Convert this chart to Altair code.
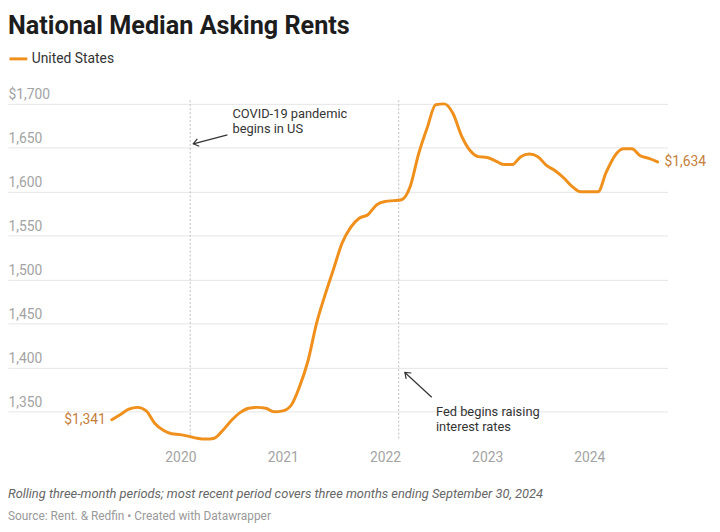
import altair as alt
import pandas as pd

# ---- data ----
SERIES = "United States"
START_MONTH = "2019-05-01"   # first monthly period shown
RENT = [1341, 1347, 1353, 1355, 1351, 1337, 1329, 1325,          # May-Dec 2019
        1324, 1322, 1320, 1319, 1320, 1329, 1340, 1349, 1354, 1355, 1354, 1350,  # 2020
        1351, 1358, 1378, 1408, 1450, 1483, 1512, 1542, 1560, 1570, 1574, 1585,  # 2021
        1589, 1590, 1591, 1606, 1643, 1673, 1699, 1700, 1689, 1664, 1647, 1640,  # 2022
        1639, 1635, 1631, 1631, 1640, 1643, 1640, 1630, 1624, 1616, 1606, 1600,  # 2023
        1600, 1600, 1622, 1641, 1649, 1649, 1641, 1638, 1634]                    # Jan-Sep 2024
YEAR_TICKS = [2020, 2021, 2022, 2023, 2024]
Y_TICKS = [1350, 1400, 1450, 1500, 1550, 1600, 1650, 1700]

EVENT_DATES = ["2020-02-05", "2022-02-19"]
NOTE_DATES = ["2020-07-05", "2020-07-05", "2022-07-02", "2022-07-02"]
NOTE_VALUES = [1683.6, 1667.0, 1345.6, 1328.7]
NOTE_TEXTS = ["COVID-19 pandemic", "begins in US", "Fed begins raising", "interest rates"]
ARROW_TAIL_DATES = ["2020-06-17", "2022-06-17"]
ARROW_TAIL_VALUES = [1664.8, 1366.5]
ARROW_HEAD_DATES = ["2020-02-16", "2022-03-13"]
ARROW_HEAD_VALUES = [1654.6, 1394.7]
ARROW_ANGLES = [165.6, 221.6]

TITLE = "National Median Asking Rents"
NOTE = "Rolling three-month periods; most recent period covers three months ending September 30, 2024"
SOURCE = "Source: Rent. & Redfin \u2022 Created with Datawrapper"

ORANGE = "#f0901c"
LABEL_ORANGE = "#c4803b"
FONT = "Roboto"

# ---- tables ----
months = pd.date_range(START_MONTH, periods=len(RENT), freq="MS")
df = pd.DataFrame({"date": months.strftime("%Y-%m-%d"), "rent": RENT, "series": SERIES})
df["label"] = ["$" + format(v, ",") for v in RENT]
first = df.iloc[[0]]
last = df.iloc[[-1]]

events = pd.DataFrame({"date": EVENT_DATES})
notes = pd.DataFrame({"date": NOTE_DATES, "rent": NOTE_VALUES, "txt": NOTE_TEXTS})
arrows = pd.DataFrame({"date": ARROW_TAIL_DATES, "rent": ARROW_TAIL_VALUES,
                       "date2": ARROW_HEAD_DATES, "rent2": ARROW_HEAD_VALUES,
                       "ang": ARROW_ANGLES})

# ---- x scale domain so the data spans the same pixels as the reference ----
W, H = 667, 347
t0 = pd.Timestamp(START_MONTH, tz="UTC").value // 10**6
t1 = pd.Timestamp(months[-1].strftime("%Y-%m-%d"), tz="UTC").value // 10**6
mpp = (t1 - t0) / 552.0
x_dom = [t0 - 105 * mpp, t0 + (W - 105) * mpp]

x_enc = alt.X("date:T",
              scale=alt.Scale(type="utc", domain=x_dom),
              axis=alt.Axis(values=[alt.DateTime(year=y, month=1, date=1, utc=True) for y in YEAR_TICKS],
                            labelExpr="utcFormat(datum.value, '%Y')",
                            grid=False, domain=False, ticks=False, tickSize=0,
                            labelPadding=4, labelFontSize=14, labelColor="#a3a3a3",
                            labelFont=FONT, title=None, labelFlush=False))
y_enc = alt.Y("rent:Q",
              scale=alt.Scale(domain=[1310, 1700], nice=False, zero=False),
              axis=alt.Axis(values=Y_TICKS,
                            labelExpr="datum.value == 1700 ? '$1,700' : format(datum.value, ',')",
                            grid=True, gridColor="#e6e6e6", gridWidth=1,
                            domain=False, ticks=False, tickSize=0,
                            labelAlign="left", labelBaseline="alphabetic", labelPadding=0,
                            labelOffset=-5, labelFontSize=14, labelColor="#a3a3a3",
                            labelFont=FONT, title=None, labelFlush=False, labelOverlap=False))

event_rules = alt.Chart(events).mark_rule(color="#bdbdbd", strokeWidth=1, strokeDash=[2, 2]).encode(
    x="date:T", y=alt.datum(1704), y2=alt.datum(1318))

line = alt.Chart(df).mark_line(strokeWidth=3, interpolate="monotone", strokeCap="round").encode(
    x=x_enc, y=y_enc,
    color=alt.Color("series:N", scale=alt.Scale(range=[ORANGE]),
                    legend=alt.Legend(title=None, orient="none", legendX=0, legendY=-56,
                                      symbolType="stroke", symbolStrokeWidth=3, symbolSize=324,
                                      labelFontSize=14, labelColor="#333333", labelFont=FONT,
                                      labelOffset=3, padding=0)))

first_label = alt.Chart(first).mark_text(align="right", baseline="middle", dx=-6, fontSize=14,
                                         font=FONT, color=LABEL_ORANGE).encode(
    x="date:T", y="rent:Q", text="label:N")
last_label = alt.Chart(last).mark_text(align="left", baseline="middle", dx=7, fontSize=14,
                                       font=FONT, color=LABEL_ORANGE).encode(
    x="date:T", y="rent:Q", text="label:N")

note_text = alt.Chart(notes).mark_text(align="left", baseline="alphabetic", fontSize=13,
                                       font=FONT, color="#333333").encode(
    x="date:T", y="rent:Q", text="txt:N")

arrow_shaft = alt.Chart(arrows).mark_rule(color="#333333", strokeWidth=1.2).encode(
    x="date:T", x2="date2:T", y="rent:Q", y2="rent2:Q")
arrow_head = alt.Chart(arrows).mark_point(shape="M -1 -0.75 L 0 0 L -1 0.75", filled=False,
                                          color="#333333", strokeWidth=1.2, size=110,
                                          opacity=1).encode(
    x="date2:T", y="rent2:Q", angle=alt.Angle("ang:Q", scale=None))

title = alt.Chart(pd.DataFrame({"t": [TITLE]})).mark_text(
    align="left", baseline="alphabetic", fontSize=25.5, fontWeight="bold", font=FONT,
    color="#1d1d1d").encode(x=alt.value(0), y=alt.value(-71), text="t:N")
note = alt.Chart(pd.DataFrame({"t": [NOTE]})).mark_text(
    align="left", baseline="alphabetic", fontSize=13, fontStyle="italic", font=FONT,
    color="#666666").encode(x=alt.value(0), y=alt.value(399), text="t:N")
source = alt.Chart(pd.DataFrame({"t": [SOURCE]})).mark_text(
    align="left", baseline="alphabetic", fontSize=12, font=FONT,
    color="#999999").encode(x=alt.value(0), y=alt.value(421), text="t:N")

chart = alt.layer(event_rules, line, first_label, last_label, note_text, arrow_shaft, arrow_head,
                  title, note, source).properties(
    width=W, height=H,
    autosize=alt.AutoSizeParams(type="none"),
    padding={"left": 0, "top": 94, "right": 45, "bottom": 80},
    background="white",
).configure_view(strokeWidth=0)

chart.save("out.html", embed_options={"renderer": "svg", "actions": False})
